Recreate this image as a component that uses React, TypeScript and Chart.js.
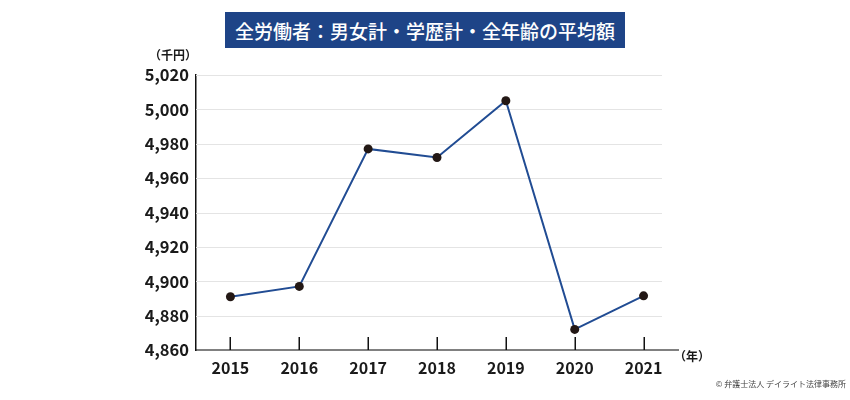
import React, { useEffect, useRef } from "react";
import { Chart, registerables } from "chart.js";

Chart.register(...registerables);

const years = ["2015", "2016", "2017", "2018", "2019", "2020", "2021"];
const averagePay = [4891, 4897, 4977, 4972, 5005, 4872, 4891.5];
const yMin = 4860;
const yMax = 5020;
const yStep = 20;

const titleText = "全労働者：男女計・学歴計・全年齢の平均額";
const yUnit = "（千円）";
const xUnit = "（年）";
const credit = "© 弁護士法人 デイライト法律事務所";

const FONT = '"Noto Sans CJK JP", "Noto Sans", sans-serif';

const decorPlugin = {
  id: "decor",
  beforeDatasetsDraw(chart: any) {
    const { ctx, chartArea, scales } = chart;
    const x = scales.x;
    const y = scales.y;
    ctx.save();
    ctx.strokeStyle = "#e4e4e4";
    ctx.lineWidth = 1;
    ctx.beginPath();
    for (const t of y.ticks) {
      if (t.value === yMin) continue;
      const py = Math.round(y.getPixelForValue(t.value)) + 0.5;
      ctx.moveTo(chartArea.left, py);
      ctx.lineTo(chartArea.right - 16, py);
    }
    ctx.stroke();
    ctx.strokeStyle = "#111";
    ctx.lineWidth = 1.5;
    ctx.beginPath();
    for (let i = 0; i < x.ticks.length; i++) {
      const px = Math.round(x.getPixelForTick(i)) + 0.25;
      ctx.moveTo(px, chartArea.bottom - 13);
      ctx.lineTo(px, chartArea.bottom);
    }
    ctx.stroke();
    ctx.restore();
  },
};

export default function App() {
  const canvasRef = useRef<HTMLCanvasElement | null>(null);

  useEffect(() => {
    document.body.style.margin = "0";
    const canvas = canvasRef.current;
    if (!canvas) return;
    const chart = new Chart(canvas, {
      type: "line",
      data: {
        labels: years,
        datasets: [
          {
            data: averagePay,
            borderColor: "#214c93",
            borderWidth: 2,
            backgroundColor: "#231815",
            pointBackgroundColor: "#231815",
            pointBorderColor: "#231815",
            pointRadius: 4.5,
            pointBorderWidth: 0,
            tension: 0,
            fill: false,
          },
        ],
      },
      options: {
        responsive: false,
        animation: false,
        layout: { padding: { left: 0, top: 75, right: 172, bottom: 0 } },
        plugins: {
          legend: { display: false },
          tooltip: { enabled: false },
          title: { display: false },
        },
        scales: {
          x: {
            offset: true,
            grid: { display: true, drawOnChartArea: false, drawTicks: false },
            border: { display: true, color: "#808080", width: 2 },
            ticks: {
              padding: 8,
              color: "#1a1a1a",
              font: { family: FONT, size: 16, weight: "bold" },
            },
            afterFit: (s: any) => {
              s.height = 50;
            },
          },
          y: {
            min: yMin,
            max: yMax,
            grid: { display: true, drawOnChartArea: false, drawTicks: false },
            border: { display: true, color: "#111", width: 1.5 },
            ticks: {
              stepSize: yStep,
              padding: 7,
              color: "#1a1a1a",
              font: { family: FONT, size: 16.5, weight: "bold" },
              callback: (v: any) => Number(v).toLocaleString("en-US"),
            },
            afterFit: (s: any) => {
              s.width = 196;
            },
          },
        },
      },
      plugins: [decorPlugin],
    });
    return () => chart.destroy();
  }, []);

  return (
    <div style={{ position: "relative", width: 850, height: 400, background: "#fff", fontFamily: FONT }}>
      <canvas ref={canvasRef} width={850} height={400} style={{ display: "block" }} />
      <div
        style={{
          position: "absolute",
          left: 225,
          top: 12,
          width: 400,
          height: 36,
          background: "#1e4487",
          color: "#fff",
          fontSize: 19,
          fontWeight: 500,
          display: "flex",
          alignItems: "center",
          justifyContent: "center",
          whiteSpace: "nowrap",
        }}
      >
        {titleText}
      </div>
      <div
        style={{
          position: "absolute",
          left: 149,
          top: 47,
          fontSize: 12,
          fontWeight: 700,
          lineHeight: "16px",
          color: "#1a1a1a",
          whiteSpace: "nowrap",
        }}
      >
        {yUnit}
      </div>
      <div
        style={{
          position: "absolute",
          left: 674,
          top: 348,
          fontSize: 12,
          fontWeight: 700,
          lineHeight: "16px",
          color: "#1a1a1a",
          whiteSpace: "nowrap",
        }}
      >
        {xUnit}
      </div>
      <div
        style={{
          position: "absolute",
          right: 4,
          top: 378,
          fontSize: 8,
          lineHeight: "12px",
          color: "#444",
          whiteSpace: "nowrap",
        }}
      >
        {credit}
      </div>
    </div>
  );
}
